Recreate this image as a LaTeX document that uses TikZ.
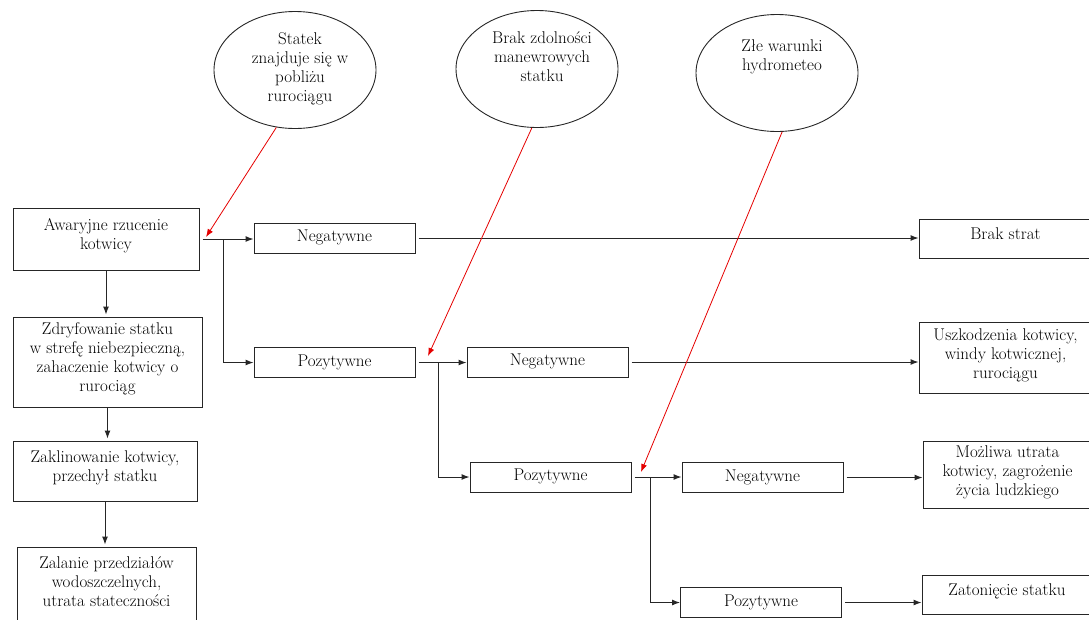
\documentclass[tikz,border=0pt]{standalone}
\usetikzlibrary{shapes.geometric,positioning,arrows.meta}
\tikzset{>={Latex[length=8pt,width=6pt]}}
\tikzset{
  box/.style={draw=black!85,line width=1pt,align=center,inner sep=0pt,
    text=black,font=\fontsize{17}{19}\selectfont,text depth=10pt},
  cause/.style={draw=black!85,line width=0.9pt,ellipse,inner sep=0pt,
    minimum width=162pt,minimum height=117pt},
  causetext/.style={align=center,inner sep=0pt,xshift=5pt,
    text=black,font=\fontsize{17}{19}\selectfont},
  flow/.style={->,line width=1pt,draw=black!85},
  hint/.style={->,draw=red!90!black,line width=0.8pt}
}

\begin{document}
\begin{tikzpicture}[x=1pt,y=-1pt]
  \useasboundingbox (0,0) rectangle (1089,619);
  % przyczyny
  \node[cause] (c1) at (295,70) {};
  \node[cause] (c2) at (537,69) {};
  \node[cause] (c3) at (777,73) {};
  \node[causetext,below=21pt of c1.north] (t1) {Statek\\znajduje się w\\pobliżu\\rurociągu};
  \node[causetext,below=21pt of c2.north] (t2) {Brak zdolności\\manewrowych\\statku};
  \node[causetext,below=25pt of c3.north] (t3) {Złe warunki\\hydrometeo};
  % lewa kolumna
  \node[box,minimum width=186pt,minimum height=62pt] (a1) at (106,239) {Awaryjne rzucenie\\kotwicy};
  \node[box,minimum width=189pt,minimum height=90pt] (a2) at (107.5,362) {Zdryfowanie statku\\w strefę niebezpieczną,\\zahaczenie kotwicy o\\rurociąg};
  \node[box,minimum width=184pt,minimum height=60pt] (a3) at (105,471) {Zaklinowanie kotwicy,\\przechył statku};
  \node[box,minimum width=179pt,minimum height=80pt] (a4) at (106.5,587) {Zalanie przedziałów\\wodoszczelnych,\\utrata stateczności};
  % gałęzie
  \node[box,minimum width=161pt,minimum height=30pt,text depth=4pt] (n1) at (334.5,238) {Negatywne};
  \node[box,minimum width=161pt,minimum height=30pt,text depth=4pt] (p1) at (334.5,362.5) {Pozytywne};
  \node[box,minimum width=161pt,minimum height=30pt,text depth=4pt] (n2) at (547.5,362) {Negatywne};
  \node[box,minimum width=161pt,minimum height=30pt,text depth=4pt] (p2) at (550.5,477) {Pozytywne};
  \node[box,minimum width=161pt,minimum height=30pt,text depth=4pt] (n3) at (762.5,477.5) {Negatywne};
  \node[box,minimum width=161pt,minimum height=30pt,text depth=4pt] (p3) at (761,602.5) {Pozytywne};
  % skutki
  \node[box,minimum width=173pt,minimum height=39pt] (r1) at (1005.5,238.5) {Brak strat};
  \node[box,minimum width=173pt,minimum height=71pt,text depth=7pt] (r2) at (1005.5,357.5) {Uszkodzenia kotwicy,\\windy kotwicznej,\\rurociągu};
  \node[box,minimum width=169pt,minimum height=67pt,text depth=7pt] (r3) at (1007.5,474.5) {Możliwa utrata\\kotwicy, zagrożenie\\życia ludzkiego};
  \node[box,minimum width=170pt,minimum height=39pt] (r4) at (1007,594.5) {Zatonięcie statku};
  \coordinate (j1) at (223,239);
  \coordinate (j2) at (438,362.5);
  \coordinate (j3) at (650,477);
  \coordinate (h1) at (206,237);
  \coordinate (h2) at (428,356);
  \coordinate (h3) at (641,472);
  \foreach \u/\v in {a1/a2,a2/a3,a3/a4}
    \draw[flow,shorten >=2pt] (\u.south) -- (\u.south |- \v.north);
  \foreach \u/\v in {a1/n1,p1/n2,p2/n3,n1/r1,n2/r2,n3/r3,p3/r4}
    \draw[flow,shorten <=3pt] (\u.east) -- (\u.east -| \v.west);
  \foreach \j/\v in {j1/p1,j2/p2,j3/p3}
    \draw[flow] (\j) |- (\v.west);
  \draw[hint] (c1.252) -- (h1);
  \draw[hint] (c2.265) -- (h2);
  \draw[hint] (c3.275) -- (h3);
\end{tikzpicture}
\end{document}
